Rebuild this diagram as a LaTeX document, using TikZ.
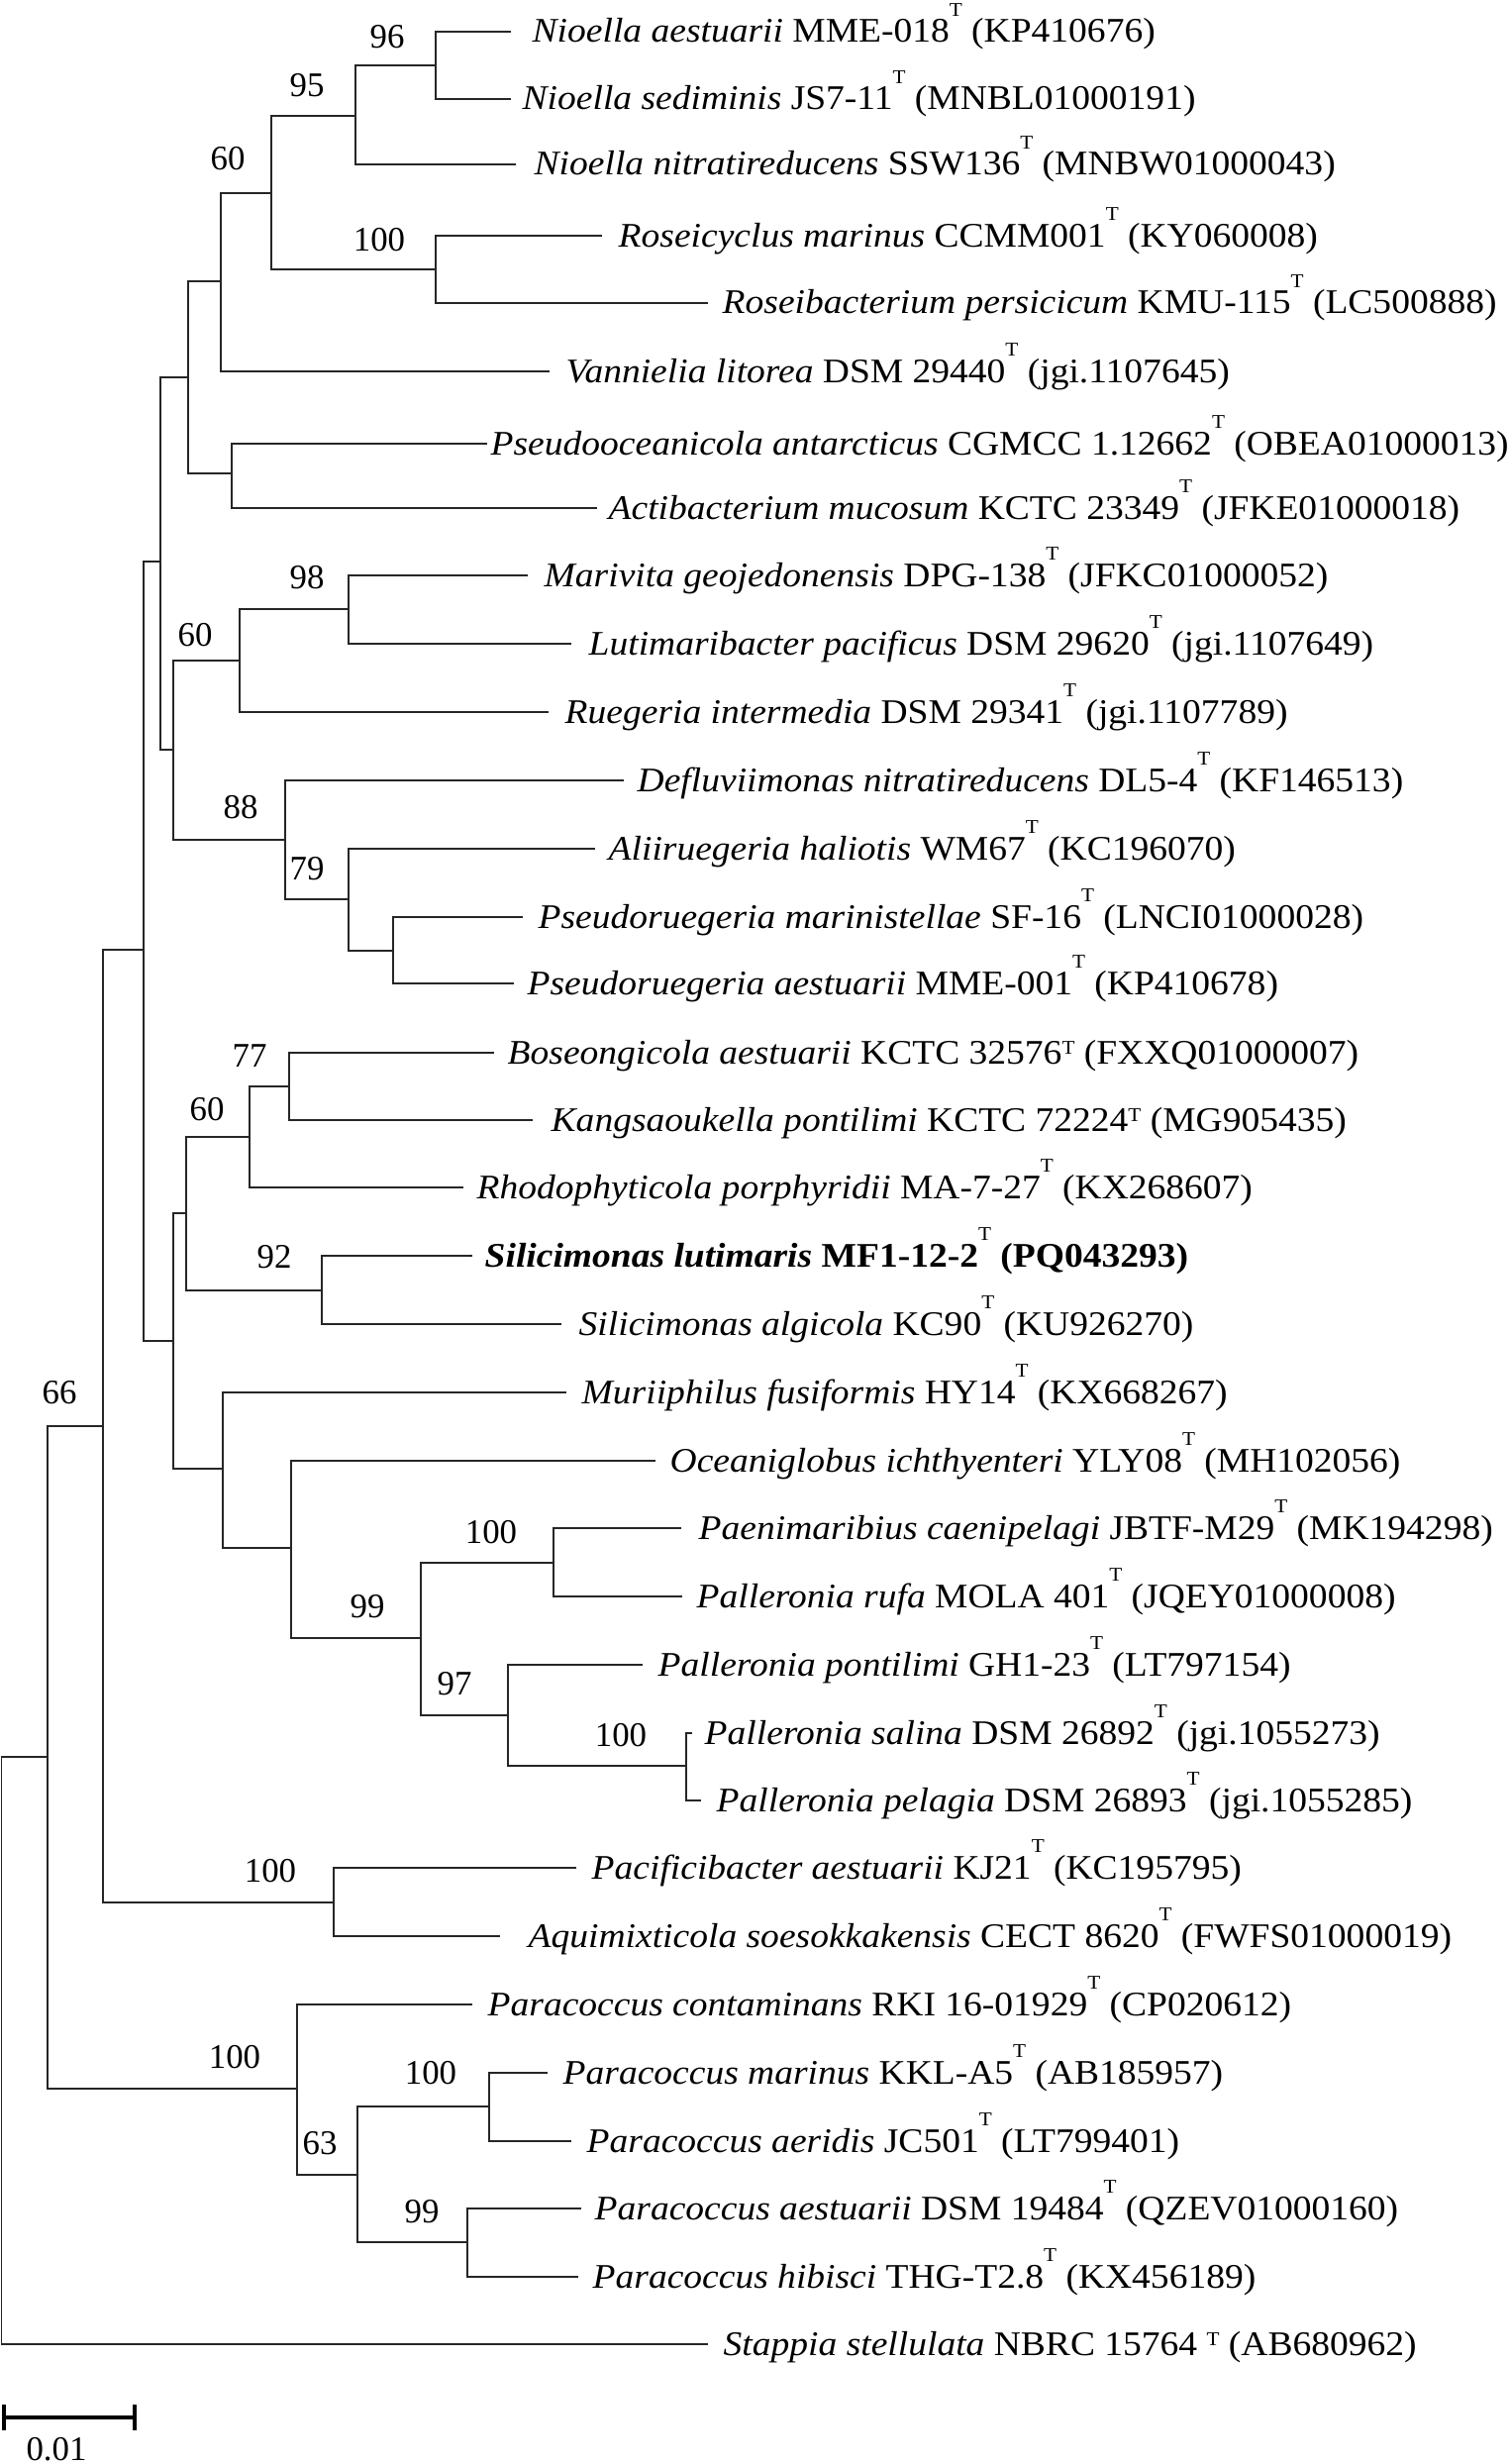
\documentclass[tikz,border=0pt]{standalone}
\usepackage{fontspec}
\setmainfont{Liberation Serif}
\newfontfamily\taxfont{Liberation Serif}[FakeStretch=1.078]
\newcommand{\souche}{\raisebox{0.76em}{\fontsize{5.6}{6}\selectfont T}}
\newcommand{\souchebas}{\raisebox{0.28em}{\fontsize{5.6}{6}\selectfont T}}
\begin{document}
\begin{tikzpicture}[x=0.01cm, y=-0.01cm,
    branche/.style={draw=black!85, line width=0.5pt},
    boot/.style={inner sep=0pt, font=\fontsize{9.9}{12}\selectfont},
    taxon/.style={anchor=base west, inner sep=0pt, font=\taxfont\fontsize{9.9}{12}\selectfont}]
\useasboundingbox (0,0) rectangle (1524,2488);

% Noeuds internes
\coordinate (n96) at (440,66);
\coordinate (n95) at (359,117);
\coordinate (nros) at (440,272);
\coordinate (n60a) at (274,195);
\coordinate (nvan) at (223,284);
\coordinate (npse) at (234,478);
\coordinate (na) at (190,381);
\coordinate (n98) at (352,615);
\coordinate (n60b) at (242,667);
\coordinate (nprg) at (397,960);
\coordinate (n79) at (352,908);
\coordinate (n88) at (288,848);
\coordinate (nb) at (175,757);
\coordinate (nc) at (162,567);
\coordinate (n77) at (292,1097);
\coordinate (n60c) at (252,1148);
\coordinate (n92) at (325,1303);
\coordinate (nd) at (188,1225);
\coordinate (npae) at (559,1578);
\coordinate (nsal) at (693,1783);
\coordinate (n97) at (513,1732);
\coordinate (n99a) at (425,1654);
\coordinate (ne) at (294,1563);
\coordinate (nf) at (225,1483);
\coordinate (ng) at (175,1354);
\coordinate (nh) at (145,959);
\coordinate (npac) at (337,1921);
\coordinate (n66) at (104,1440);
\coordinate (nmar) at (494,2127);
\coordinate (n99b) at (472,2264);
\coordinate (n63) at (361,2196);
\coordinate (npar) at (300,2109);
\coordinate (ni) at (48,1774);
\coordinate (racine) at (1.5,1774);

% Extremites et taxons
\coordinate (t1) at (516,32);
\node[taxon] (l1) at (537,43) {\textit{Nioella aestuarii} MME-018\souche\ (KP410676)};
\coordinate (t2) at (516,100);
\node[taxon] (l2) at (527,111) {\textit{Nioella sediminis} JS7-11\souche\ (MNBL01000191)};
\coordinate (t3) at (521,166);
\node[taxon] (l3) at (539,177) {\textit{Nioella nitratireducens} SSW136\souche\ (MNBW01000043)};
\coordinate (t4) at (608,238);
\node[taxon] (l4) at (624,249) {\textit{Roseicyclus marinus} CCMM001\souche\ (KY060008)};
\coordinate (t5) at (715,306);
\node[taxon] (l5) at (729,317) {\textit{Roseibacterium persicicum} KMU-115\souche\ (LC500888)};
\coordinate (t6) at (555,375);
\node[taxon] (l6) at (571,386) {\textit{Vannielia litorea} DSM 29440\souche\ (jgi.1107645)};
\coordinate (t7) at (492,448);
\node[taxon] (l7) at (495,459) {\textit{Pseudooceanicola antarcticus} CGMCC 1.12662\souche\ (OBEA01000013)};
\coordinate (t8) at (603,513);
\node[taxon] (l8) at (614,524) {\textit{Actibacterium mucosum} KCTC 23349\souche\ (JFKE01000018)};
\coordinate (t9) at (533,581);
\node[taxon] (l9) at (549,592) {\textit{Marivita geojedonensis} DPG-138\souche\ (JFKC01000052)};
\coordinate (t10) at (577,650);
\node[taxon] (l10) at (594,661) {\textit{Lutimaribacter pacificus} DSM 29620\souche\ (jgi.1107649)};
\coordinate (t11) at (554,719);
\node[taxon] (l11) at (570,730) {\textit{Ruegeria intermedia} DSM 29341\souche\ (jgi.1107789)};
\coordinate (t12) at (630,788);
\node[taxon] (l12) at (643,799) {\textit{Defluviimonas nitratireducens} DL5-4\souche\ (KF146513)};
\coordinate (t13) at (601,857);
\node[taxon] (l13) at (614,868) {\textit{Aliiruegeria haliotis} WM67\souche\ (KC196070)};
\coordinate (t14) at (528,926);
\node[taxon] (l14) at (543,937) {\textit{Pseudoruegeria marinistellae} SF-16\souche\ (LNCI01000028)};
\coordinate (t15) at (519,993);
\node[taxon] (l15) at (532,1004) {\textit{Pseudoruegeria aestuarii} MME-001\souche\ (KP410678)};
\coordinate (t16) at (499,1063);
\node[taxon] (l16) at (512,1074) {\textit{Boseongicola aestuarii} KCTC 32576\souchebas\ (FXXQ01000007)};
\coordinate (t17) at (538,1131);
\node[taxon] (l17) at (556,1142) {\textit{Kangsaoukella pontilimi} KCTC 72224\souchebas\ (MG905435)};
\coordinate (t18) at (468,1199);
\node[taxon] (l18) at (481,1210) {\textit{Rhodophyticola porphyridii} MA-7-27\souche\ (KX268607)};
\coordinate (t19) at (477,1268);
\node[taxon] (l19) at (489,1279) {\textbf{\textit{Silicimonas lutimaris} MF1-12-2}\souche\ \textbf{(PQ043293)}};
\coordinate (t20) at (567,1337);
\node[taxon] (l20) at (584,1348) {\textit{Silicimonas algicola} KC90\souche\ (KU926270)};
\coordinate (t21) at (572,1406);
\node[taxon] (l21) at (587,1417) {\textit{Muriiphilus fusiformis} HY14\souche\ (KX668267)};
\coordinate (t22) at (662,1475);
\node[taxon] (l22) at (676,1486) {\textit{Oceaniglobus ichthyenteri} YLY08\souche\ (MH102056)};
\coordinate (t23) at (688,1543);
\node[taxon] (l23) at (705,1554) {\textit{Paenimaribius caenipelagi} JBTF-M29\souche\ (MK194298)};
\coordinate (t24) at (689,1612);
\node[taxon] (l24) at (703,1623) {\textit{Palleronia rufa} MOLA 401\souche\ (JQEY01000008)};
\coordinate (t25) at (649,1681);
\node[taxon] (l25) at (664,1692) {\textit{Palleronia pontilimi} GH1-23\souche\ (LT797154)};
\coordinate (t26) at (699,1750);
\node[taxon] (l26) at (711,1761) {\textit{Palleronia salina} DSM 26892\souche\ (jgi.1055273)};
\coordinate (t27) at (708,1818);
\node[taxon] (l27) at (723,1829) {\textit{Palleronia pelagia} DSM 26893\souche\ (jgi.1055285)};
\coordinate (t28) at (582,1886);
\node[taxon] (l28) at (597,1897) {\textit{Pacificibacter aestuarii} KJ21\souche\ (KC195795)};
\coordinate (t29) at (505,1955);
\node[taxon] (l29) at (533,1966) {\textit{Aquimixticola soesokkakensis} CECT 8620\souche\ (FWFS01000019)};
\coordinate (t30) at (477,2024);
\node[taxon] (l30) at (492,2035) {\textit{Paracoccus contaminans} RKI 16-01929\souche\ (CP020612)};
\coordinate (t31) at (553,2093);
\node[taxon] (l31) at (568,2104) {\textit{Paracoccus marinus} KKL-A5\souche\ (AB185957)};
\coordinate (t32) at (577,2162);
\node[taxon] (l32) at (592,2173) {\textit{Paracoccus aeridis} JC501\souche\ (LT799401)};
\coordinate (t33) at (587,2230);
\node[taxon] (l33) at (600,2241) {\textit{Paracoccus aestuarii} DSM 19484\souche\ (QZEV01000160)};
\coordinate (t34) at (584,2299);
\node[taxon] (l34) at (598,2310) {\textit{Paracoccus hibisci} THG-T2.8\souche\ (KX456189)};
\coordinate (t35) at (715,2367);
\node[taxon] (l35) at (730,2378) {\textit{Stappia stellulata} NBRC 15764 \souchebas\ (AB680962)};

% Branches
\draw[branche] (n96) |- (t1);
\draw[branche] (n96) |- (t2);
\draw[branche] (n95) |- (n96);
\draw[branche] (n95) |- (t3);
\draw[branche] (nros) |- (t4);
\draw[branche] (nros) |- (t5);
\draw[branche] (n60a) |- (n95);
\draw[branche] (n60a) |- (nros);
\draw[branche] (nvan) |- (n60a);
\draw[branche] (nvan) |- (t6);
\draw[branche] (npse) |- (t7);
\draw[branche] (npse) |- (t8);
\draw[branche] (na) |- (nvan);
\draw[branche] (na) |- (npse);
\draw[branche] (n98) |- (t9);
\draw[branche] (n98) |- (t10);
\draw[branche] (n60b) |- (n98);
\draw[branche] (n60b) |- (t11);
\draw[branche] (nprg) |- (t14);
\draw[branche] (nprg) |- (t15);
\draw[branche] (n79) |- (t13);
\draw[branche] (n79) |- (nprg);
\draw[branche] (n88) |- (t12);
\draw[branche] (n88) |- (n79);
\draw[branche] (nb) |- (n60b);
\draw[branche] (nb) |- (n88);
\draw[branche] (nc) |- (na);
\draw[branche] (nc) |- (nb);
\draw[branche] (n77) |- (t16);
\draw[branche] (n77) |- (t17);
\draw[branche] (n60c) |- (n77);
\draw[branche] (n60c) |- (t18);
\draw[branche] (n92) |- (t19);
\draw[branche] (n92) |- (t20);
\draw[branche] (nd) |- (n60c);
\draw[branche] (nd) |- (n92);
\draw[branche] (npae) |- (t23);
\draw[branche] (npae) |- (t24);
\draw[branche] (nsal) |- (t26);
\draw[branche] (nsal) |- (t27);
\draw[branche] (n97) |- (t25);
\draw[branche] (n97) |- (nsal);
\draw[branche] (n99a) |- (npae);
\draw[branche] (n99a) |- (n97);
\draw[branche] (ne) |- (t22);
\draw[branche] (ne) |- (n99a);
\draw[branche] (nf) |- (t21);
\draw[branche] (nf) |- (ne);
\draw[branche] (ng) |- (nd);
\draw[branche] (ng) |- (nf);
\draw[branche] (nh) |- (nc);
\draw[branche] (nh) |- (ng);
\draw[branche] (npac) |- (t28);
\draw[branche] (npac) |- (t29);
\draw[branche] (n66) |- (nh);
\draw[branche] (n66) |- (npac);
\draw[branche] (nmar) |- (t31);
\draw[branche] (nmar) |- (t32);
\draw[branche] (n99b) |- (t33);
\draw[branche] (n99b) |- (t34);
\draw[branche] (n63) |- (nmar);
\draw[branche] (n63) |- (n99b);
\draw[branche] (npar) |- (t30);
\draw[branche] (npar) |- (n63);
\draw[branche] (ni) |- (n66);
\draw[branche] (ni) |- (npar);
\draw[branche] (racine) |- (ni);
\draw[branche] (racine) |- (t35);

% Valeurs de bootstrap
\node[boot] (b96) at (391,37) {96};
\node[boot] (b95) at (310,86) {95};
\node[boot] (b60a) at (230,160) {60};
\node[boot] (bros) at (383,242) {100};
\node[boot] (b98) at (310,583) {98};
\node[boot] (b60b) at (197,641) {60};
\node[boot] (b88) at (243,815) {88};
\node[boot] (b79) at (310,877) {79};
\node[boot] (b77) at (252,1066) {77};
\node[boot] (b60c) at (209,1120) {60};
\node[boot] (b92) at (277,1269) {92};
\node[boot] (b66) at (60,1406) {66};
\node[boot] (bpae) at (496,1547) {100};
\node[boot] (b99a) at (371,1622) {99};
\node[boot] (b97) at (459,1700) {97};
\node[boot] (bsal) at (627,1752) {100};
\node[boot] (bpac) at (273,1889) {100};
\node[boot] (bpar) at (237,2077) {100};
\node[boot] (bmar) at (435,2093) {100};
\node[boot] (b63) at (323,2164) {63};
\node[boot] (b99b) at (426,2233) {99};

% Echelle
\coordinate (e0) at (4,2441);
\coordinate (e1) at (136,2441);
\draw[line width=1.3pt] (e0) -- (e1);
\draw[line width=1.3pt] (e0) ++(0,-13) -- ++(0,26);
\draw[line width=1.3pt] (e1) ++(0,-13) -- ++(0,26);
\node[boot] (echelle) at (57,2473) {0.01};
\end{tikzpicture}
\end{document}
